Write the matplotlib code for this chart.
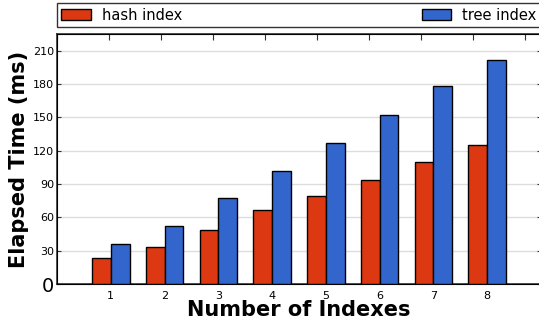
import matplotlib
matplotlib.use("Agg")
import matplotlib.pyplot as plt
import numpy as np

categories = ["1", "2", "3", "4", "5", "6", "7", "8"]
hash_index = [23, 33, 49, 67, 79, 94, 110, 125]
tree_index = [36, 52, 77, 102, 127, 152, 178, 202]
yticks = [0, 30, 60, 90, 120, 150, 180, 210]

fig = plt.figure(figsize=(5.39, 3.22), dpi=100)
ax = fig.add_axes([0.1058, 0.118, 0.8979, 0.776])

x = np.arange(1, len(categories) + 1)
w = 0.35
ax.bar(x - w / 2, hash_index, w, color="#DC3912", edgecolor="black", linewidth=1.0, label="hash index", zorder=3)
ax.bar(x + w / 2, tree_index, w, color="#3366CC", edgecolor="black", linewidth=1.0, label="tree index", zorder=3)

ax.set_xlim(0, 9)
ax.set_ylim(0, 225)
ax.set_xticks(x)
ax.set_xticklabels(categories, fontsize=8)
ax.set_yticks(yticks)
ax.set_yticklabels([str(v) for v in yticks], fontsize=8)
ax.get_yticklabels()[0].set_fontsize(14)
ax.tick_params(axis="x", length=0, pad=5)
ax.tick_params(axis="y", direction="in", length=3, right=True, color="#333333", pad=2)
ax.yaxis.grid(True, color="#dddddd", linewidth=1.0, zorder=0)
ax.set_axisbelow(True)
for s in ax.spines.values():
    s.set_color("#333333")
    s.set_linewidth(1.2)

ax.set_ylabel("Elapsed Time (ms)", fontsize=15, fontweight="bold", labelpad=3)
ax.set_xlabel("Number of Indexes", fontsize=15, fontweight="bold", labelpad=-1)

top = ax.twiny()
top.set_xlim(0, 9.3)
top.set_xticks(range(0, 10))
top.set_xticklabels([])
top.tick_params(axis="x", direction="in", length=4, color="#333333")

ax.legend(loc="lower left", bbox_to_anchor=(0, 1.028, 1, 0.085), mode="expand", ncol=2,
          borderaxespad=0, fontsize=10.5, fancybox=False, edgecolor="#333333",
          handlelength=2.0, handleheight=0.8, handletextpad=0.8, borderpad=0.3,
          framealpha=1)

fig.savefig("out.png", dpi=100)
